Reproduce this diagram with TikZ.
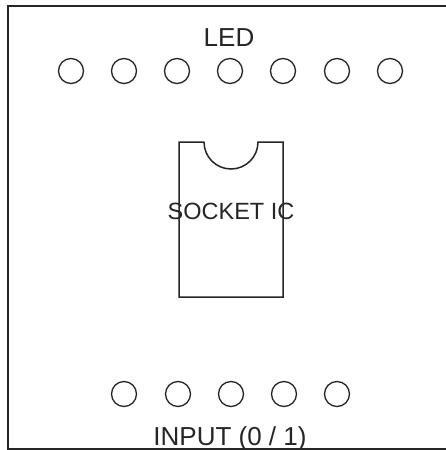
\documentclass[tikz,border=0pt]{standalone}
\usepackage{fontspec}
\setmainfont{Liberation Sans}
\begin{document}
\begin{tikzpicture}[x=1pt,y=-1pt,
  pin/.style={draw=black!85,line width=1.3pt,circle,minimum size=25pt,inner sep=0pt},
  lbl/.style={anchor=base,inner sep=0pt,text=black!85,font=\fontsize{26}{30}\selectfont},
  board/.style={draw=black!85,line width=2pt},
  sock/.style={draw=black!85,line width=1.5pt}]
\clip (0,0) rectangle (446,450);
\fill[white] (0,0) rectangle (446,450);
% LEDs
\foreach \i/\x in {1/71,2/124,3/177,4/230,5/283,6/337,7/390}
  \node[pin] (led\i) at (\x,71) {};
% inputs
\foreach \i/\x in {1/124,2/178,3/231,4/284,5/337}
  \node[pin] (in\i) at (\x,394) {};
% socket
\draw[sock] (204,142) -- (179,142) -- (179,297) -- (283,297) -- (283,142) -- (258,142)
  arc[start angle=0,end angle=180,radius=27];
\node[lbl] (ledlabel) at (229,46) {LED};
\node[lbl,font=\fontsize{23.5}{28}\selectfont] (socklabel) at (231,219) {SOCKET IC};
\node[lbl] (inlabel) at (230,445) {INPUT (0 / 1)};
\draw[board] (8,6) rectangle (470,449);
\end{tikzpicture}
\end{document}
